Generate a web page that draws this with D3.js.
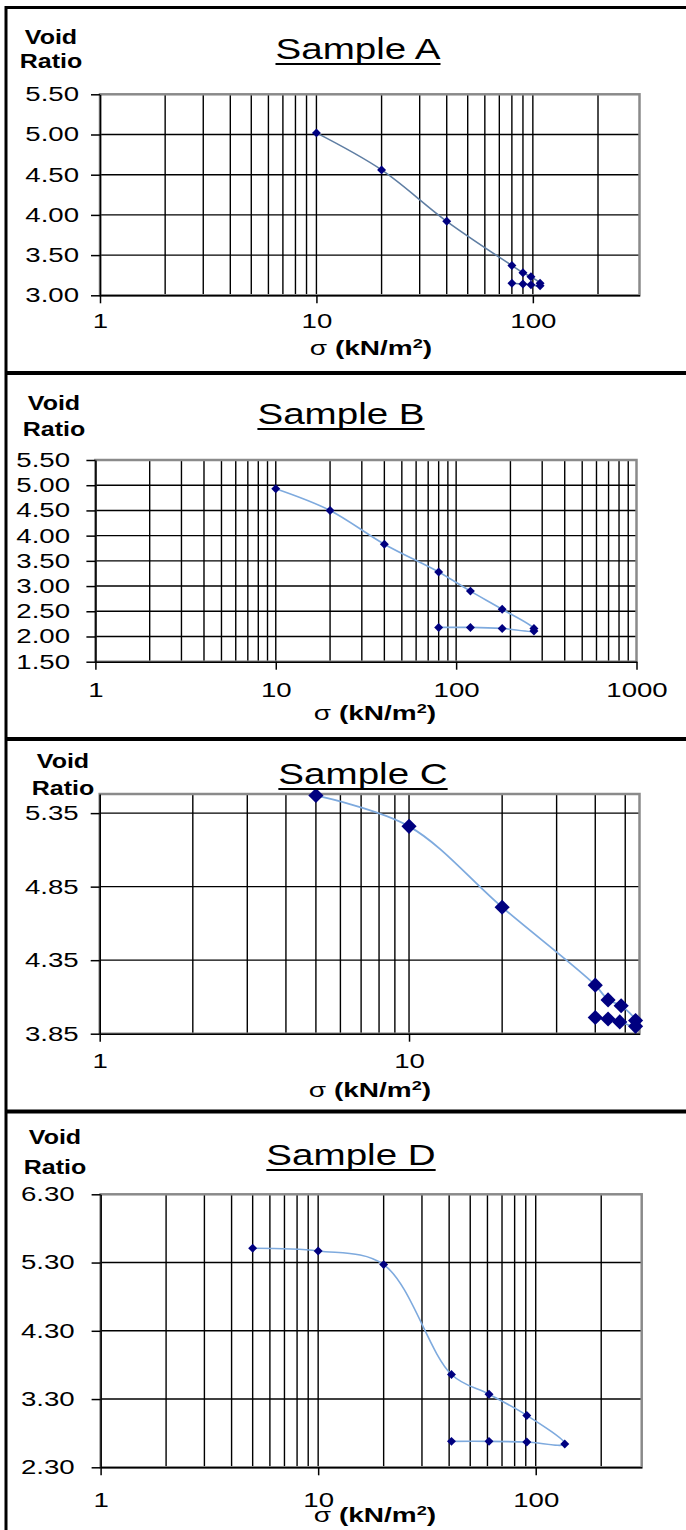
<!DOCTYPE html>
<html>
<head>
<meta charset="utf-8">
<script src="https://cdn.jsdelivr.net/npm/d3@7"></script>
<style>
    body { margin: 0; background: #fff; }
    svg { display: block; }
    text { font-family: "Liberation Sans", Arial, sans-serif; fill: #000; }
</style>
</head>
<body>
<svg id="chart" width="686" height="1530"></svg>
<script>
// ---- data ----
// Sample A
const sigmaA = [10, 20, 40, 80, 90, 98, 108, 108, 98, 90, 80];
const voidA = [5.02, 4.56, 3.92, 3.37, 3.28, 3.23, 3.15, 3.12, 3.13, 3.14, 3.15];
const yTicksA = [3.00, 3.50, 4.00, 4.50, 5.00, 5.50];
const xLabelsA = [1, 10, 100];

// Sample B
const sigmaB = [10, 20, 40, 80, 120, 180, 270, 270, 180, 120, 80];
const voidB = [4.93, 4.50, 3.83, 3.28, 2.90, 2.54, 2.16, 2.11, 2.16, 2.18, 2.18];
const yTicksB = [1.50, 2.00, 2.50, 3.00, 3.50, 4.00, 4.50, 5.00, 5.50];
const xLabelsB = [1, 10, 100, 1000];

// Sample C
const sigmaC = [5, 10, 20, 40, 44, 48.5, 54, 54, 48, 44, 40];
const voidC = [5.47, 5.26, 4.71, 4.18, 4.08, 4.04, 3.94, 3.90, 3.93, 3.95, 3.96];
const yTicksC = [3.85, 4.35, 4.85, 5.35];
const xLabelsC = [1, 10];

// Sample D
const sigmaD = [5, 10, 20, 41, 61, 91, 136, 91, 61, 41];
const voidD = [5.51, 5.47, 5.27, 3.66, 3.37, 3.06, 2.64, 2.67, 2.68, 2.68];
const yTicksD = [2.30, 3.30, 4.30, 5.30, 6.30];
const xLabelsD = [1, 10, 100];

// axis extents
const xMax = { A: 311, B: 1000, C: 55.6, D: 307 };
const yRange = { A: [3.00, 5.50], B: [1.50, 5.50], C: [3.85, 5.48], D: [2.30, 6.30] };

const svg = d3.select("#chart");
const SX = 1.38; // the lettering in the picture is stretched sideways

// page frame: left rule, top rule and panel dividers
svg.append("line").attr("x1", 6).attr("x2", 6).attr("y1", 6).attr("y2", 1530)
    .attr("stroke", "#000").attr("stroke-width", 3);
[7.5, 373, 739, 1111.5].forEach((yy, i) => {
    svg.append("line").attr("x1", 5).attr("x2", 686).attr("y1", yy).attr("y2", yy)
        .attr("stroke", "#000").attr("stroke-width", i === 0 ? 3 : 4);
});

function stretched(parent, str, x, y, size, weight, anchor, sx) {
    return parent.append("text")
        .attr("transform", `translate(${x},${y}) scale(${sx || SX},1)`)
        .attr("text-anchor", anchor)
        .style("font-size", size + "px")
        .style("font-weight", weight)
        .text(str);
}

const panels = [
    { key: "A", title: "Sample A", sigma: sigmaA, e: voidA, yTicks: yTicksA, xLabels: xLabelsA,
      big: false, lineColor: "#5f7ea3",
      L: { left: 100, right: 639.5, top: 94.3, bottom: 295.3, titleX: 358, titleY: 59,
           vrX: 51, voidY: 44, ratioY: 68, ylabOff: 21, xlabOff: 33, xtitleX: 371, xtitleY: 355 } },
    { key: "B", title: "Sample B", sigma: sigmaB, e: voidB, yTicks: yTicksB, xLabels: xLabelsB,
      big: false, lineColor: "#7eaade",
      L: { left: 95.4, right: 636.5, top: 460, bottom: 661.7, titleX: 341, titleY: 424,
           vrX: 54, voidY: 410, ratioY: 436, ylabOff: 25.4, xlabOff: 35, xtitleX: 375, xtitleY: 720 } },
    { key: "C", title: "Sample C", sigma: sigmaC, e: voidC, yTicks: yTicksC, xLabels: xLabelsC,
      big: true, lineColor: "#7eaade",
      L: { left: 99.7, right: 639.5, top: 794, bottom: 1033.7, titleX: 363, titleY: 784,
           vrX: 63, voidY: 768, ratioY: 795, ylabOff: 21, xlabOff: 34.6, xtitleX: 370, xtitleY: 1096.5 } },
    { key: "D", title: "Sample D", sigma: sigmaD, e: voidD, yTicks: yTicksD, xLabels: xLabelsD,
      big: false, lineColor: "#7eaade",
      L: { left: 100.6, right: 641.7, top: 1194.3, bottom: 1467.3, titleX: 351, titleY: 1165,
           vrX: 55, voidY: 1144, ratioY: 1174, ylabOff: 26, xlabOff: 39.4, xtitleX: 375, xtitleY: 1522 } }
];

panels.forEach(p => drawPanel(p));

function drawPanel(p) {
    const L = p.L;
    const x = d3.scaleLog().domain([1, xMax[p.key]]).range([L.left, L.right]);
    const y = d3.scaleLinear().domain(yRange[p.key]).range([L.bottom, L.top]);
    const g = svg.append("g");

    // vertical grid at every 1..9 multiple
    const vlines = x.ticks().filter(v => v > 1 && x(v) < L.right - 5);
    g.selectAll(".vgrid").data(vlines).join("line")
        .attr("x1", d => x(d)).attr("x2", d => x(d))
        .attr("y1", L.top).attr("y2", L.bottom)
        .attr("stroke", "#000").attr("stroke-width", 1.4);

    // horizontal grid at the labelled void ratios
    const hlines = p.yTicks.filter(v => y(v) < L.bottom - 2 && y(v) > L.top + 2);
    g.selectAll(".hgrid").data(hlines).join("line")
        .attr("x1", L.left).attr("x2", L.right)
        .attr("y1", d => y(d)).attr("y2", d => y(d))
        .attr("stroke", "#000").attr("stroke-width", 1.4);

    // grey plot frame
    g.append("rect")
        .attr("x", L.left).attr("y", L.top)
        .attr("width", L.right - L.left).attr("height", L.bottom - L.top)
        .attr("fill", "none").attr("stroke", "#8a8a8a").attr("stroke-width", 2.5);

    // axes
    const xAxis = g.append("g").attr("transform", `translate(0,${L.bottom})`)
        .call(d3.axisBottom(x).tickValues(p.xLabels).tickFormat(d3.format("d"))
            .tickSize(8).tickSizeOuter(0));
    const yAxis = g.append("g").attr("transform", `translate(${L.left},0)`)
        .call(d3.axisLeft(y).tickValues(p.yTicks).tickFormat(d3.format(".2f"))
            .tickSize(9).tickSizeOuter(0));

    [xAxis, yAxis].forEach(a => {
        a.attr("font-family", null).attr("font-size", null);
        a.select(".domain").attr("stroke", "#000").attr("stroke-width", 1.6);
        a.selectAll(".tick line").attr("stroke", "#000").attr("stroke-width", 1.5);
        a.selectAll("text").style("font-size", "20px").attr("fill", "#000");
    });
    xAxis.selectAll("text")
        .attr("y", L.xlabOff).attr("dy", 0)
        .attr("transform", `scale(${SX},1)`);
    yAxis.selectAll("text")
        .attr("x", -L.ylabOff / SX)
        .attr("transform", `scale(${SX},1)`);

    // curve and markers
    const pts = p.sigma.map((s, i) => [s, p.e[i]]);
    const line = d3.line()
        .x(d => x(d[0])).y(d => y(d[1]))
        .curve(d3.curveCatmullRom.alpha(0.5));
    g.append("path").datum(pts)
        .attr("d", line)
        .attr("fill", "none")
        .attr("stroke", p.lineColor)
        .attr("stroke-width", p.big ? 1.8 : 1.6);

    const marker = d3.symbol(d3.symbolSquare, p.big ? 115 : 40);
    g.selectAll(".pt").data(pts).join("path")
        .attr("d", marker)
        .attr("transform", d => `translate(${x(d[0])},${y(d[1])}) rotate(45)`)
        .attr("fill", "#000080");

    // titles
    const t = stretched(g, p.title, L.titleX, L.titleY, 29, "normal", "middle", 1.33);
    const w = t.node().getComputedTextLength() * 1.33;
    g.append("line")
        .attr("x1", L.titleX - w / 2).attr("x2", L.titleX + w / 2)
        .attr("y1", L.titleY + 5).attr("y2", L.titleY + 5)
        .attr("stroke", "#000").attr("stroke-width", 2);

    stretched(g, "Void", L.vrX, L.voidY, 20, "bold", "middle", 1.25);
    stretched(g, "Ratio", L.vrX, L.ratioY, 20, "bold", "middle", 1.25);

    const xt = g.append("text")
        .attr("transform", `translate(${L.xtitleX},${L.xtitleY}) scale(1.4,1)`)
        .attr("text-anchor", "middle")
        .style("font-size", "20px")
        .style("font-weight", "bold");
    xt.append("tspan").style("font-weight", "normal").text("σ");
    xt.append("tspan").text(" (kN/m");
    xt.append("tspan").style("font-size", "13px").attr("dy", -7).text("2");
    xt.append("tspan").attr("dy", 7).text(")");
}
</script>
</body>
</html>
